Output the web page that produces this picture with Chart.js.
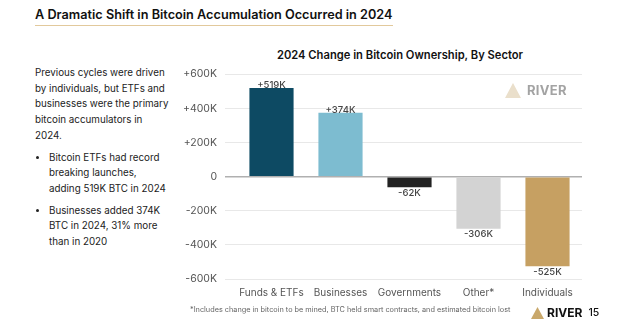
<!DOCTYPE html>
<html lang="en">
<head>
<meta charset="UTF-8">
<title>2024 Change in Bitcoin Ownership, By Sector</title>
<script src="https://cdn.jsdelivr.net/npm/chart.js@4"></script>
<style>
  body { margin: 0; width: 625px; height: 333px; background: #fff; overflow: hidden; font-family: Inter, "Noto Sans", sans-serif; position: relative; }
  .pageTitle { position: absolute; left: 35px; top: 7px; font-size: 12.7px; font-weight: 600; color: #111; padding-bottom: 3px; border-bottom: 1.5px solid #e2c99c; white-space: nowrap; }
  .side { position: absolute; left: 35px; top: 65px; font-size: 9.8px; line-height: 15.7px; color: #222; white-space: nowrap; }
  .side p { margin: 0 0 6px 0; }
  .side ul { margin: 0; padding-left: 14px; }
  .side li { margin-bottom: 6px; }
  .chartTitle { position: absolute; left: 200px; width: 400px; top: 48px; text-align: center; font-size: 11.2px; font-weight: 600; color: #111; }
  #sectorChart { position: absolute; left: 175px; top: 60px; }
  .mark { position: absolute; display: flex; align-items: center; font-weight: 700; }
  .note { position: absolute; left: 190px; top: 305px; font-size: 7.3px; color: #666; white-space: nowrap; }
</style>
</head>
<body>
<div class="pageTitle">A Dramatic Shift in Bitcoin Accumulation Occurred in 2024</div>

<div class="side">
  <p>Previous cycles were driven<br>by individuals, but ETFs and<br>businesses were the primary<br>bitcoin accumulators in<br>2024.</p>
  <ul>
    <li>Bitcoin ETFs had record<br>breaking launches,<br>adding 519K BTC in 2024</li>
    <li>Businesses added 374K<br>BTC in 2024, 31% more<br>than in 2020</li>
  </ul>
</div>

<div class="chartTitle">2024 Change in Bitcoin Ownership, By Sector</div>
<canvas id="sectorChart" width="450" height="249"></canvas>

<div class="mark" style="left:505px; top:82px; color:#a3a3a3; font-size:13px;">
  <svg width="16" height="15" viewBox="0 0 16 15"><polygon points="8,0 16,15 0,15" fill="#eadfcb"/></svg>
  <span style="margin-left:6px; letter-spacing:0.3px;">RIVER</span>
</div>

<div class="note">*Includes change in bitcoin to be mined, BTC held smart contracts, and estimated bitcoin lost</div>

<div class="mark" style="left:531px; top:305px; color:#111; font-size:12px;">
  <svg width="13" height="12" viewBox="0 0 13 12"><polygon points="6.5,0 13,12 0,12" fill="#c9a86b"/></svg>
  <span style="margin-left:3px;">RIVER</span>
  <span style="margin-left:6px; font-weight:500; font-size:10.5px;">15</span>
</div>

<script>
var sectors = ['Funds & ETFs', 'Businesses', 'Governments', 'Other*', 'Individuals'];
var changeBtc = [519000, 374000, -62000, -306000, -525000];
var changeLabels = ['+519K', '+374K', '-62K', '-306K', '-525K'];
var barColors = ['#0d4a63', '#7dbcd0', '#222222', '#d3d3d3', '#c6a062'];
var yTickLabels = ['-600K', '-400K', '-200K', '0', '+200K', '+400K', '+600K'];

// value labels above / below each bar
var barLabels = {
    id: 'barLabels',
    afterDatasetsDraw: function(chart) {
        var ctx = chart.ctx;
        var meta = chart.getDatasetMeta(0);
        ctx.save();
        ctx.font = '500 9.5px Inter';
        ctx.fillStyle = '#444';
        ctx.textAlign = 'center';
        meta.data.forEach(function(bar, i) {
            if (changeBtc[i] >= 0) {
                ctx.textBaseline = 'bottom';
                ctx.fillText(changeLabels[i], bar.x, bar.y + 2);
            } else {
                ctx.textBaseline = 'top';
                ctx.fillText(changeLabels[i], bar.x, bar.y + 1);
            }
        });
        ctx.restore();
    }
};

var ctx = document.getElementById('sectorChart').getContext('2d');
var sectorChart = new Chart(ctx, {
    type: 'bar',
    data: {
        labels: sectors,
        datasets: [{
            data: changeBtc,
            backgroundColor: barColors,
            barPercentage: 0.64,
            categoryPercentage: 1
        }]
    },
    options: {
        responsive: false,
        animation: false,
        layout: { padding: { top: 11, right: 43, bottom: 2 } },
        plugins: {
            legend: { display: false },
            tooltip: { enabled: false },
            title: { display: false }
        },
        scales: {
            x: {
                grid: { display: false, drawTicks: false },
                border: { display: false },
                ticks: { color: '#555', font: { family: 'Inter', size: 10 }, padding: 8, maxRotation: 0, autoSkip: false }
            },
            y: {
                min: -600000,
                max: 600000,
                afterFit: function(scale) { scale.width = 62; },
                border: { display: false },
                grid: {
                    color: function(c) { return c.tick && c.tick.value === 0 ? '#b0b0b0' : '#e8e8e8'; },
                    lineWidth: function(c) { return c.tick && c.tick.value === 0 ? 1.5 : 1; },
                    drawTicks: true,
                    tickLength: 12
                },
                ticks: {
                    stepSize: 200000,
                    color: '#555',
                    padding: 8,
                    font: { family: 'Inter', size: 10.5 },
                    callback: function(v, i) { return yTickLabels[i]; }
                }
            }
        }
    },
    plugins: [barLabels]
});
</script>
</body>
</html>
